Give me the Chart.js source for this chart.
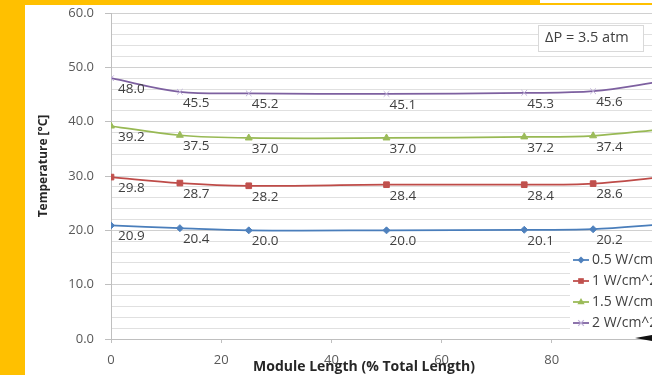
<!DOCTYPE html>
<html>
<head>
<meta charset="utf-8">
<script src="https://cdn.jsdelivr.net/npm/chart.js@4.4.1/dist/chart.umd.min.js"></script>
<style>
  html, body { margin: 0; padding: 0; width: 652px; height: 375px; overflow: hidden; background: #fff; }
  #wrap { position: relative; width: 652px; height: 375px; overflow: hidden; background: #fff; }
  #c { position: absolute; left: 0; top: 0; }
  .band { position: absolute; background: #FFC000; z-index: 2; }
</style>
</head>
<body>
<div id="wrap">
  <canvas id="c" width="700" height="375" style="width:700px;height:375px"></canvas>
  <div class="band" style="left:0;top:0;width:25px;height:375px"></div>
  <div class="band" style="left:0;top:0;width:540px;height:5px"></div>
  <div class="band" style="left:540px;top:3px;width:112px;height:2px"></div>
</div>
<script>
// Measurement positions along the module (% of total length)
const positions = [0, 12.5, 25, 50, 75, 87.5, 100];

// Temperature (°C) for each heat flux
const temp05 = [20.9, 20.4, 20.0, 20.0, 20.1, 20.2, 21.1];
const temp10 = [29.8, 28.7, 28.2, 28.4, 28.4, 28.6, 29.8];
const temp15 = [39.2, 37.5, 37.0, 37.0, 37.2, 37.4, 38.6];
const temp20 = [48.0, 45.5, 45.2, 45.1, 45.3, 45.6, 47.4];

const seriesNames = ['0.5 W/cm^2', '1 W/cm^2', '1.5 W/cm^2', '2 W/cm^2'];

// Axis ticks
const xTicks = [0, 20, 40, 60, 80, 100];
const yTicks = [0, 10, 20, 30, 40, 50, 60];
const yGridStep = 2;

const xTitle = 'Module Length (% Total Length)';
const yTitle = 'Temperature [°C]';
const noteText = 'ΔP = 3.5 atm';

const FONT = '"Open Sans", "DejaVu Sans", sans-serif';

const styles = [
  { line: '#4A7EBB', fill: '#4F81BD', point: 'rectRot', r: 3.5 },
  { line: '#BE4B48', fill: '#C0504D', point: 'rect', r: 4 },
  { line: '#98B954', fill: '#9BBB59', point: 'triangle', r: 4 },
  { line: '#7D60A0', fill: '#BFB0D8', point: 'crossRot', r: 4 }
];
const values = [temp05, temp10, temp15, temp20];

const datasets = values.map((vals, i) => ({
  label: seriesNames[i],
  data: positions.map((x, k) => ({ x: x, y: vals[k] })),
  borderColor: styles[i].line,
  borderWidth: 1.75,
  backgroundColor: styles[i].fill,
  pointStyle: styles[i].point,
  pointRadius: styles[i].r,
  pointBackgroundColor: styles[i].fill,
  pointBorderColor: styles[i].fill,
  pointBorderWidth: 1,
  tension: 0.35,
  fill: false
}));

function marker(ctx, style, x, y, r, color) {
  ctx.save();
  ctx.fillStyle = color;
  ctx.strokeStyle = color;
  ctx.lineWidth = 1.2;
  ctx.beginPath();
  if (style === 'rectRot') {
    ctx.moveTo(x, y - r); ctx.lineTo(x + r, y); ctx.lineTo(x, y + r); ctx.lineTo(x - r, y); ctx.closePath(); ctx.fill();
  } else if (style === 'rect') {
    const s = r * Math.SQRT1_2;
    ctx.rect(x - s, y - s, 2 * s, 2 * s); ctx.fill();
  } else if (style === 'triangle') {
    ctx.moveTo(x, y - r); ctx.lineTo(x + r * 0.9, y + r * 0.55); ctx.lineTo(x - r * 0.9, y + r * 0.55); ctx.closePath(); ctx.fill();
  } else {
    const s = r * Math.SQRT1_2;
    ctx.moveTo(x - s, y - s); ctx.lineTo(x + s, y + s); ctx.moveTo(x + s, y - s); ctx.lineTo(x - s, y + s); ctx.stroke();
  }
  ctx.restore();
}

const decor = {
  id: 'decor',
  afterDatasetsDraw(chart) {
    const ctx = chart.ctx;
    ctx.save();
    ctx.font = '13.5px ' + FONT;
    ctx.fillStyle = '#404040';
    ctx.textAlign = 'left';
    ctx.textBaseline = 'middle';
    chart.data.datasets.forEach((ds, di) => {
      chart.getDatasetMeta(di).data.forEach((pt, k) => {
        const dx = k === 0 ? 7 : 3;
        ctx.fillText(values[di][k].toFixed(1), pt.x + dx, pt.y + 11);
      });
    });
    ctx.restore();
  },
  afterDraw(chart) {
    const ctx = chart.ctx;
    const area = chart.chartArea;
    ctx.save();

    // legend panel
    ctx.fillStyle = '#fff';
    ctx.fillRect(570, 250, 140, 84);
    ctx.font = '14px ' + FONT;
    ctx.textAlign = 'left';
    ctx.textBaseline = 'middle';
    seriesNames.forEach((name, i) => {
      const y = 260 + i * 21;
      ctx.strokeStyle = styles[i].line;
      ctx.lineWidth = 1.75;
      ctx.beginPath(); ctx.moveTo(573, y); ctx.lineTo(589, y); ctx.stroke();
      marker(ctx, styles[i].point, 581, y, styles[i].r, styles[i].fill);
      ctx.fillStyle = '#404040';
      ctx.fillText(name, 592, y + 0.5);
    });

    // pressure note
    ctx.fillStyle = '#fff';
    ctx.fillRect(538.5, 25.5, 105, 26);
    ctx.strokeStyle = '#D9D9D9';
    ctx.lineWidth = 1;
    ctx.strokeRect(538.5, 25.5, 105, 26);
    ctx.fillStyle = '#404040';
    ctx.font = '14.5px ' + FONT;
    ctx.fillText(noteText, 545, 38);

    // axis titles
    ctx.fillStyle = '#262626';
    ctx.font = 'bold 14px ' + FONT;
    ctx.textAlign = 'center';
    ctx.fillText(xTitle, 364, 367);
    ctx.save();
    ctx.translate(44, 166);
    ctx.rotate(-Math.PI / 2);
    ctx.font = 'bold 12px ' + FONT;
    ctx.fillText(yTitle, 0, 0);
    ctx.restore();

    // arrow head at the axis end
    ctx.fillStyle = '#111';
    ctx.beginPath();
    ctx.moveTo(635, area.bottom - 1);
    ctx.lineTo(652, area.bottom - 4);
    ctx.lineTo(652, area.bottom + 2);
    ctx.closePath();
    ctx.fill();
    ctx.restore();
  }
};

new Chart(document.getElementById('c'), {
  type: 'line',
  data: { datasets: datasets },
  plugins: [decor],
  options: {
    responsive: false,
    animation: false,
    devicePixelRatio: 1,
    layout: { padding: { top: 13, right: 38, bottom: 0, left: 0 } },
    plugins: { legend: { display: false }, tooltip: { enabled: false } },
    scales: {
      x: {
        type: 'linear',
        min: 0,
        max: 100,
        afterBuildTicks: s => { s.ticks = xTicks.map(v => ({ value: v })); },
        afterFit: s => { s.height = 36; s.paddingLeft = 0; s.paddingRight = 0; },
        ticks: {
          autoSkip: false,
          maxRotation: 0,
          padding: 9,
          color: '#595959',
          font: { family: FONT, size: 13 },
          callback: v => String(v)
        },
        grid: { drawOnChartArea: false, drawTicks: true, tickLength: 4, tickColor: '#BFBFBF' },
        border: { color: '#BFBFBF', width: 1 }
      },
      y: {
        type: 'linear',
        min: 0,
        max: 60,
        afterBuildTicks: s => {
          const t = [];
          for (let v = 0; v <= 60; v += yGridStep) t.push({ value: v });
          s.ticks = t;
        },
        afterFit: s => { s.width = 111; s.paddingTop = 0; s.paddingBottom = 0; },
        ticks: {
          autoSkip: false,
          padding: 11,
          color: '#595959',
          font: { family: FONT, size: 13 },
          callback: v => (yTicks.includes(v) ? v.toFixed(1) : '')
        },
        grid: {
          color: c => (yTicks.includes(c.tick.value) ? '#D0D0D0' : '#E0E0E0'),
          tickColor: c => (yTicks.includes(c.tick.value) ? '#BFBFBF' : 'rgba(0,0,0,0)'),
          tickLength: 6,
          lineWidth: 1
        },
        border: { color: '#BFBFBF', width: 1 }
      }
    }
  }
});
</script>
</body>
</html>
